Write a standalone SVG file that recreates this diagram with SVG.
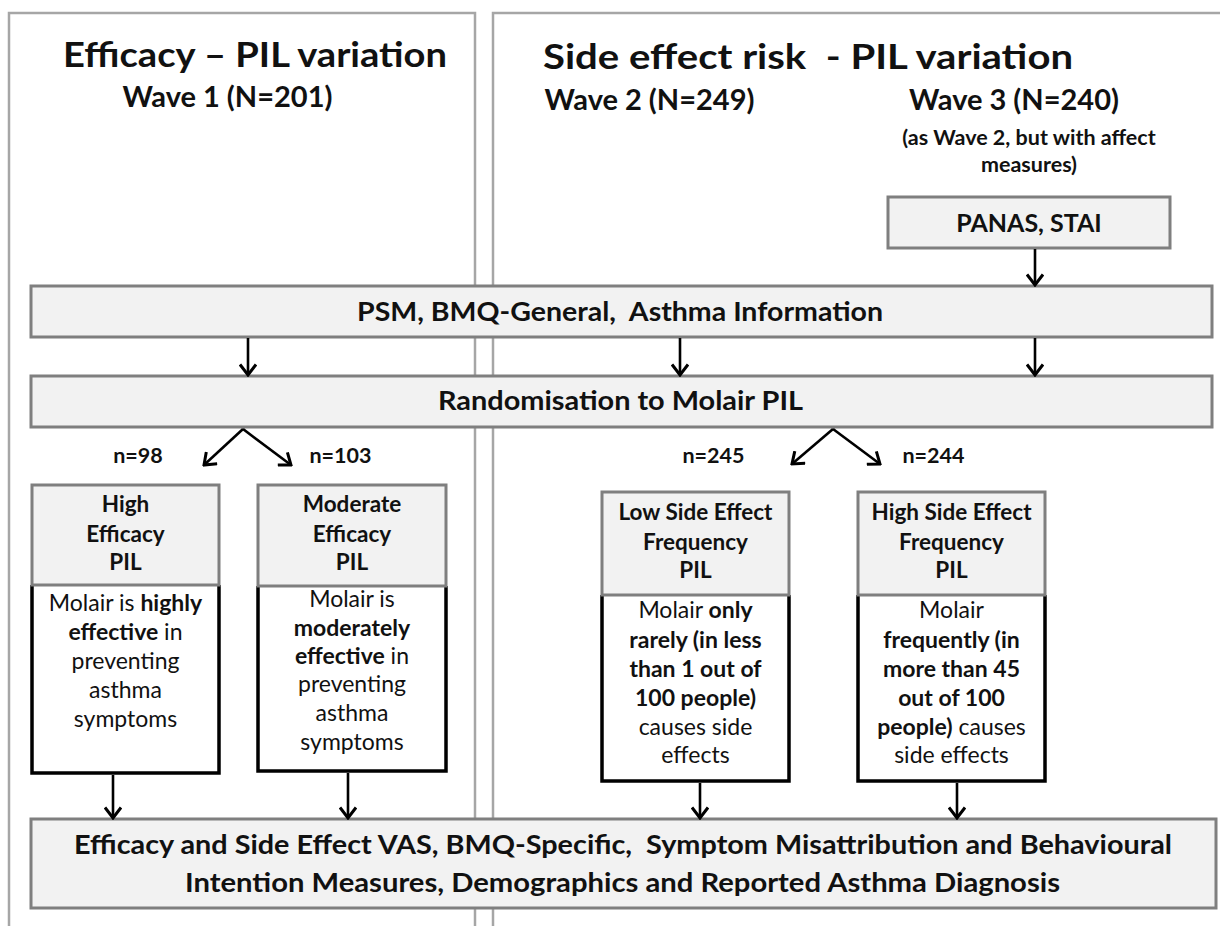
<svg xmlns="http://www.w3.org/2000/svg" width="1220" height="926" viewBox="0 0 1220 926">
<defs>
<style>
text{font-family:Lato,"Liberation Sans",sans-serif;fill:#111;text-anchor:middle}
.t1{font-size:35px;font-weight:bold}
.t2{font-size:29px;font-weight:bold}
.t3{font-size:21.5px;font-weight:bold}
.bar{font-size:27px;font-weight:bold}
.pn{font-size:25px;font-weight:bold}
.bt{font-size:27px;font-weight:bold}
.n{font-size:21.5px;font-weight:bold}
.hd{font-size:22.5px;font-weight:bold}
.bd{font-size:23px}
.b{font-weight:bold}
.panel{fill:none;stroke:#a6a6a6;stroke-width:2.5}
.gbox{fill:#f2f2f2;stroke:#7f7f7f;stroke-width:3}
.body{fill:#fff;stroke:none}
.bline{fill:none;stroke:#000;stroke-width:3.5}
.arr{stroke:#000;stroke-width:2.6;fill:none;marker-end:url(#ah)}
</style>
<marker id="ah" markerUnits="userSpaceOnUse" viewBox="-12 -9 14 18" refX="0" refY="0" markerWidth="14" markerHeight="18" orient="auto">
<path d="M-10.5,-8 L0,0 L-10.5,8" fill="none" stroke="#000" stroke-width="3"/>
</marker>
</defs>
<rect width="1220" height="926" fill="#fff"/>
<g id="panels">
<rect class="panel" x="9" y="13" width="466" height="940"/>
<rect class="panel" x="493" y="13" width="760" height="940"/>
</g>
<g id="titles">
<text class="t1" x="255" y="67" textLength="384" lengthAdjust="spacingAndGlyphs">Efficacy – PIL variation</text>
<text class="t2" x="227.5" y="107">Wave 1 (N=201)</text>
<text class="t1" x="808" y="69" xml:space="preserve" textLength="530" lengthAdjust="spacingAndGlyphs">Side effect risk  - PIL variation</text>
<text class="t2" x="649.5" y="110">Wave 2 (N=249)</text>
<text class="t2" x="1014" y="110">Wave 3 (N=240)</text>
<text class="t3" x="1029" y="145">(as Wave 2, but with affect</text>
<text class="t3" x="1029" y="172">measures)</text>
</g>
<g id="panas">
<rect class="gbox" x="888" y="197" width="282" height="51"/>
<text class="pn" x="1029" y="232">PANAS, STAI</text>
</g>
<g id="bar1">
<rect class="gbox" x="31" y="286" width="1181" height="51"/>
<text class="bar" x="620" y="321" xml:space="preserve" textLength="526" lengthAdjust="spacingAndGlyphs">PSM, BMQ-General,  Asthma Information</text>
</g>
<g id="bar2">
<rect class="gbox" x="31" y="376" width="1181" height="51"/>
<text class="bar" x="620.5" y="410" textLength="365" lengthAdjust="spacingAndGlyphs">Randomisation to Molair PIL</text>
</g>
<g id="labels">
<text class="n" x="138" y="463">n=98</text>
<text class="n" x="340.5" y="463">n=103</text>
<text class="n" x="713.5" y="463">n=245</text>
<text class="n" x="933.5" y="463">n=244</text>
</g>
<g id="boxA">
<rect class="body" x="32" y="585" width="187" height="188"/>
<path class="bline" d="M32,585 V773 H219 V585"/>
<rect class="gbox" x="32" y="485" width="187" height="100"/>
<text class="hd" x="125.5" y="512">High</text>
<text class="hd" x="125.5" y="542">Efficacy</text>
<text class="hd" x="125.5" y="570">PIL</text>
<text class="bd" x="125.5" y="611">Molair is <tspan class="b">highly</tspan></text>
<text class="bd" x="125.5" y="640"><tspan class="b">effective</tspan> in</text>
<text class="bd" x="125.5" y="669">preventing</text>
<text class="bd" x="125.5" y="698">asthma</text>
<text class="bd" x="125.5" y="727">symptoms</text>
</g>
<g id="boxB">
<rect class="body" x="258" y="586" width="188" height="185"/>
<path class="bline" d="M258,586 V771 H446 V586"/>
<rect class="gbox" x="258" y="485" width="188" height="101"/>
<text class="hd" x="352" y="512">Moderate</text>
<text class="hd" x="352" y="542">Efficacy</text>
<text class="hd" x="352" y="570">PIL</text>
<text class="bd" x="352" y="607">Molair is</text>
<text class="bd b" x="352" y="636">moderately</text>
<text class="bd" x="352" y="664"><tspan class="b">effective</tspan> in</text>
<text class="bd" x="352" y="692">preventing</text>
<text class="bd" x="352" y="721">asthma</text>
<text class="bd" x="352" y="750">symptoms</text>
</g>
<g id="boxC">
<rect class="body" x="602" y="595" width="187" height="186"/>
<path class="bline" d="M602,595 V781 H789 V595"/>
<rect class="gbox" x="602" y="492" width="187" height="103"/>
<text class="hd" x="695.5" y="520">Low Side Effect</text>
<text class="hd" x="695.5" y="550">Frequency</text>
<text class="hd" x="695.5" y="578">PIL</text>
<text class="bd" x="695.5" y="618">Molair <tspan class="b">only</tspan></text>
<text class="bd b" x="695.5" y="648">rarely (in less</text>
<text class="bd b" x="695.5" y="677">than 1 out of</text>
<text class="bd b" x="695.5" y="706">100 people)</text>
<text class="bd" x="695.5" y="735">causes side</text>
<text class="bd" x="695.5" y="763">effects</text>
</g>
<g id="boxD">
<rect class="body" x="858" y="595" width="187" height="186"/>
<path class="bline" d="M858,595 V781 H1045 V595"/>
<rect class="gbox" x="858" y="492" width="187" height="103"/>
<text class="hd" x="951.5" y="520">High Side Effect</text>
<text class="hd" x="951.5" y="550">Frequency</text>
<text class="hd" x="951.5" y="578">PIL</text>
<text class="bd" x="951.5" y="618">Molair</text>
<text class="bd b" x="951.5" y="648">frequently (in</text>
<text class="bd b" x="951.5" y="677">more than 45</text>
<text class="bd b" x="951.5" y="706">out of 100</text>
<text class="bd" x="951.5" y="735"><tspan class="b">people)</tspan> causes</text>
<text class="bd" x="951.5" y="763">side effects</text>
</g>
<g id="bottom">
<rect class="gbox" x="31" y="819" width="1185" height="89"/>
<text class="bt" x="623" y="854" xml:space="preserve" textLength="1098" lengthAdjust="spacingAndGlyphs">Efficacy and Side Effect VAS, BMQ-Specific,  Symptom Misattribution and Behavioural</text>
<text class="bt" x="622.5" y="892" textLength="875" lengthAdjust="spacingAndGlyphs">Intention Measures, Demographics and Reported Asthma Diagnosis</text>
</g>
<g id="connectors">
<line class="arr" x1="1035" y1="249" x2="1035" y2="285"/>
<line class="arr" x1="248" y1="338" x2="248" y2="375"/>
<line class="arr" x1="680" y1="338" x2="680" y2="375"/>
<line class="arr" x1="1035" y1="338" x2="1035" y2="375"/>
<line class="arr" x1="243" y1="429" x2="204" y2="465"/>
<line class="arr" x1="243" y1="429" x2="291" y2="465"/>
<line class="arr" x1="833" y1="429" x2="792" y2="464"/>
<line class="arr" x1="833" y1="429" x2="880" y2="464"/>
<line class="arr" x1="113" y1="775" x2="113" y2="818"/>
<line class="arr" x1="348" y1="773" x2="348" y2="818"/>
<line class="arr" x1="700" y1="783" x2="700" y2="818"/>
<line class="arr" x1="957" y1="783" x2="957" y2="818"/>
</g>
</svg>
